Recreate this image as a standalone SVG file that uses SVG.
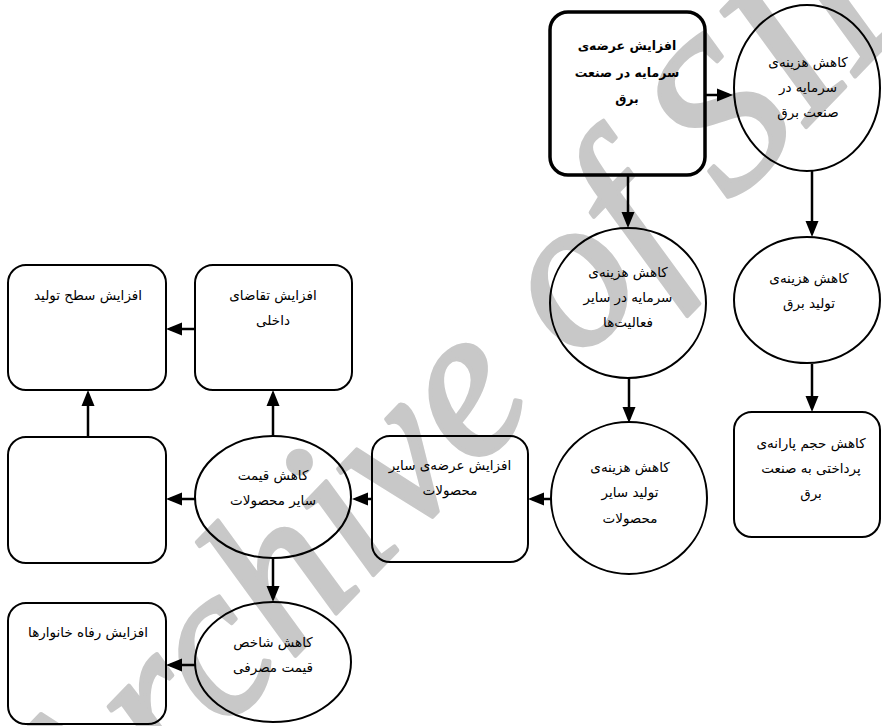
<svg xmlns="http://www.w3.org/2000/svg" width="882" height="726" viewBox="0 0 882 726">
<style>
.bg{fill:#fff}
.wm{font-family:"Liberation Serif",serif;font-style:italic;font-size:216px;fill:#c8c8c8;stroke:#c8c8c8;stroke-width:4;stroke-linejoin:round}
.shape{fill:none;stroke:#000;stroke-width:2}
.bold{stroke-width:3.5}
.t{font-family:"DejaVu Sans",sans-serif;font-size:13.5px;fill:#000;text-anchor:middle}
.tb{font-weight:bold;font-size:12.5px}
.c{fill:none;stroke:#000;stroke-width:2.5}
</style>
<defs>
<marker id="ah" markerUnits="userSpaceOnUse" markerWidth="16" markerHeight="14" refX="12" refY="7" orient="auto">
<path d="M0,0.5 L16,7 L0,13.5 z" fill="#000"/>
</marker>
</defs>
<rect class="bg" x="0" y="0" width="882" height="726"/>
<text class="wm" transform="translate(79,880) rotate(-46)">Archive of SID</text>

<g id="connectors">
<line class="c" x1="705" y1="95" x2="729" y2="95" marker-end="url(#ah)"/>
<line class="c" x1="628" y1="175" x2="628" y2="224" marker-end="url(#ah)"/>
<line class="c" x1="812" y1="171" x2="812" y2="233" marker-end="url(#ah)"/>
<line class="c" x1="812" y1="364" x2="812" y2="408" marker-end="url(#ah)"/>
<line class="c" x1="629" y1="378" x2="629" y2="419" marker-end="url(#ah)"/>
<line class="c" x1="551" y1="499" x2="532" y2="499" marker-end="url(#ah)"/>
<line class="c" x1="372" y1="499" x2="356" y2="499" marker-end="url(#ah)"/>
<line class="c" x1="273" y1="436" x2="273" y2="394" marker-end="url(#ah)"/>
<line class="c" x1="195" y1="499" x2="170" y2="499" marker-end="url(#ah)"/>
<line class="c" x1="273" y1="558" x2="273" y2="598" marker-end="url(#ah)"/>
<line class="c" x1="88" y1="437" x2="88" y2="394" marker-end="url(#ah)"/>
<line class="c" x1="195" y1="329" x2="170" y2="329" marker-end="url(#ah)"/>
<line class="c" x1="195" y1="665" x2="170" y2="665" marker-end="url(#ah)"/>
</g>

<g id="n1">
<rect class="shape bold" x="550" y="12" width="155" height="163" rx="18"/>
<text class="t tb" x="627" y="50">افزایش عرضه‌ی</text>
<text class="t tb" x="627" y="77">سرمایه در صنعت</text>
<text class="t tb" x="627" y="103">برق</text>
</g>
<g id="n2">
<ellipse class="shape" cx="807" cy="88" rx="73" ry="83"/>
<text class="t" x="808" y="67">کاهش هزینه‌ی</text>
<text class="t" x="808" y="92">سرمایه در</text>
<text class="t" x="808" y="117">صنعت برق</text>
</g>
<g id="n3">
<ellipse class="shape" cx="628" cy="303" rx="78" ry="75"/>
<text class="t" x="628" y="277">کاهش هزینه‌ی</text>
<text class="t" x="628" y="302">سرمایه در سایر</text>
<text class="t" x="628" y="327">فعالیت‌ها</text>
</g>
<g id="n4">
<ellipse class="shape" cx="807" cy="300" rx="73" ry="63"/>
<text class="t" x="809" y="283">کاهش هزینه‌ی</text>
<text class="t" x="809" y="308">تولید برق</text>
</g>
<g id="n5">
<rect class="shape" x="734" y="412" width="146" height="125" rx="18"/>
<text class="t" x="811" y="448">کاهش حجم پارانه‌ی</text>
<text class="t" x="811" y="473">پرداختی به صنعت</text>
<text class="t" x="811" y="498">برق</text>
</g>
<g id="n6">
<ellipse class="shape" cx="629" cy="498" rx="78" ry="76"/>
<text class="t" x="630" y="472">کاهش هزینه‌ی</text>
<text class="t" x="630" y="497">تولید سایر</text>
<text class="t" x="630" y="523">محصولات</text>
</g>
<g id="n7">
<rect class="shape" x="372" y="436" width="156" height="126" rx="18"/>
<text class="t" x="450" y="470">افزایش عرضه‌ی سایر</text>
<text class="t" x="450" y="495">محصولات</text>
</g>
<g id="n8">
<ellipse class="shape" cx="273" cy="497" rx="78" ry="61"/>
<text class="t" x="273" y="480">کاهش قیمت</text>
<text class="t" x="273" y="505">سایر محصولات</text>
</g>
<g id="n9">
<rect class="shape" x="195" y="265" width="157" height="125" rx="18"/>
<text class="t" x="273" y="300">افزایش تقاضای</text>
<text class="t" x="273" y="325">داخلی</text>
</g>
<g id="n10">
<rect class="shape" x="8" y="265" width="158" height="125" rx="18"/>
<text class="t" x="88" y="300">افزایش سطح تولید</text>
</g>
<g id="n11">
<rect class="shape" x="8" y="437" width="158" height="126" rx="18"/>
</g>
<g id="n12">
<ellipse class="shape" cx="273" cy="662" rx="78" ry="60"/>
<text class="t" x="273" y="647">کاهش شاخص</text>
<text class="t" x="273" y="672">قیمت مصرفی</text>
</g>
<g id="n13">
<rect class="shape" x="8" y="603" width="158" height="121" rx="18"/>
<text class="t" x="88" y="637">افزایش رفاه خانوارها</text>
</g>
</svg>
